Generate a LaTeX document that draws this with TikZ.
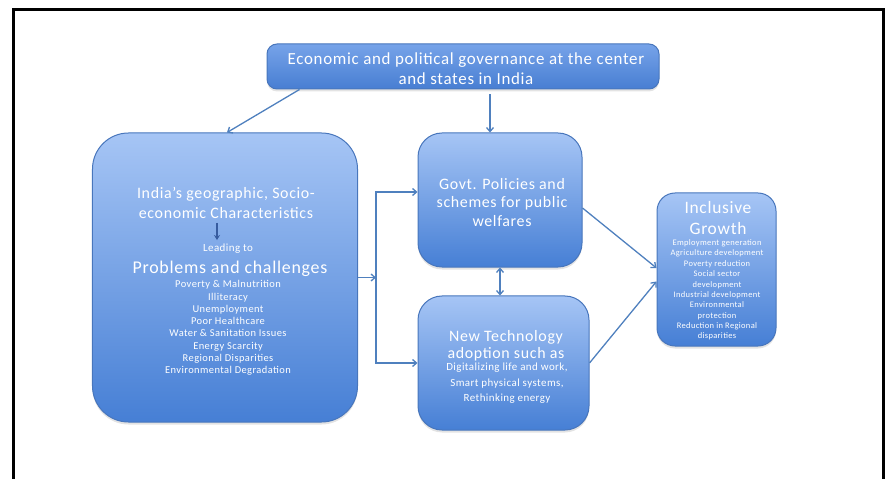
\documentclass[tikz,border=0pt]{standalone}
\usepackage{fontspec}
\setmainfont{Carlito}[LetterSpace=4]
\usetikzlibrary{arrows.meta,shadows}
\definecolor{boxtop}{RGB}{166,197,245}
\definecolor{boxbot}{RGB}{70,127,213}
\definecolor{headtop}{RGB}{118,163,233}
\definecolor{headbot}{RGB}{72,126,210}
\definecolor{boxline}{RGB}{72,118,188}
\definecolor{linkcol}{RGB}{79,128,190}
\definecolor{pointcol}{RGB}{55,92,160}
\begin{document}
\begin{tikzpicture}[x=1bp,y=-1bp,
  bluebox/.style={draw=boxline,line width=1bp,top color=boxtop,bottom color=boxbot,inner sep=0pt,
    drop shadow={opacity=0.22,shadow xshift=0bp,shadow yshift=-2.5bp}},
  boxtext/.style={text=white,align=center,inner sep=0pt},
  link/.style={draw=linkcol,line width=1.3bp,-{Straight Barb[length=4bp,width=7bp]}},
  linkboth/.style={link,{Straight Barb[length=4bp,width=7bp]}-{Straight Barb[length=4bp,width=7bp]}},
  pointer/.style={draw=pointcol,line width=2bp,-{Stealth[length=5bp,width=6bp]}}]
\useasboundingbox (0,0) rectangle (891,479);
\draw[line width=3.5bp] (13.5,479) -- (13.5,9.5) -- (883.5,9.5) -- (883.5,479);

\node[bluebox,top color=headtop,bottom color=headbot,rounded corners=10bp,minimum width=392bp,minimum height=45bp] (govern) at (463,66.5) {};
\node[boxtext,font=\fontsize{17}{20}\selectfont] (governtext) at (466,69)
  {Economic and political governance at the center\\and states in India};

\node[bluebox,rounded corners=36bp,minimum width=265bp,minimum height=289bp] (india) at (225,277.5) {};
\node[boxtext,font=\fontsize{16}{20}\selectfont] (traits) at (226,203) {India’s geographic, Socio-\\economic Characteristics};
\node[boxtext,font=\fontsize{11}{13}\selectfont] (leading) at (228,249) {Leading to};
\node[boxtext,font=\fontsize{18}{22}\selectfont] (problems) at (230,269) {Problems and challenges};
\node[boxtext,font=\fontsize{10.5}{12.3}\selectfont] (issues) at (228,328)
  {Poverty \& Malnutrition\\Illiteracy\\Unemployment\\Poor Healthcare\\Water \& Sanitation Issues\\Energy Scarcity\\Regional Disparities\\Environmental Degradation};

\node[bluebox,rounded corners=24bp,minimum width=164bp,minimum height=134bp] (policy) at (500,200) {};
\node[boxtext,font=\fontsize{16}{19}\selectfont] (policytext) at (502,202.5)
  {Govt. Policies and\\schemes for public\\welfares};

\node[bluebox,rounded corners=24bp,minimum width=171bp,minimum height=134bp] (tech) at (503.5,363) {};
\node[boxtext,font=\fontsize{16}{17.5}\selectfont] (techhead) at (506,345.5) {New Technology\\adoption such as};
\node[boxtext,font=\fontsize{11}{15.5}\selectfont] (techlist) at (507,383.5)
  {Digitalizing life and work,\\Smart physical systems,\\Rethinking energy};

\node[bluebox,rounded corners=18bp,minimum width=119bp,minimum height=153bp] (growth) at (716.5,269.5) {};
\node[boxtext,font=\fontsize{17.5}{21}\selectfont] (growthhead) at (718,218) {Inclusive\\Growth};
\node[boxtext,font=\fontsize{8.5}{10.4}\selectfont] (goals) at (717,290)
  {Employment generation\\Agriculture development\\Poverty reduction\\Social sector\\development\\Industrial development\\Environmental\\protection\\Reduction in Regional\\disparities};

\coordinate (split) at (376,277.5);

\draw[pointer,shorten <=4bp,shorten >=4bp] ([xshift=-9bp]traits.south) -- ([xshift=-9bp]traits.south |- leading.north);
\draw[link] ([xshift=33bp]govern.south west) -- ([xshift=2bp]india.north);
\draw[link,shorten <=5bp] ([xshift=-10bp]policy.north |- govern.south) -- ([xshift=-10bp]policy.north);
\draw[link] (india.east) -- (split);
\draw[link] (split) |- ([yshift=8bp]policy.west);
\draw[link] (split) |- (tech.west);
\draw[linkboth] (policy.south) -- (policy.south |- tech.north);
\draw[link] ([yshift=-8bp]policy.east) -- ([yshift=1.5bp]growth.west);
\draw[link] (tech.east) -- ([yshift=-12bp]growth.west);
\end{tikzpicture}
\end{document}
